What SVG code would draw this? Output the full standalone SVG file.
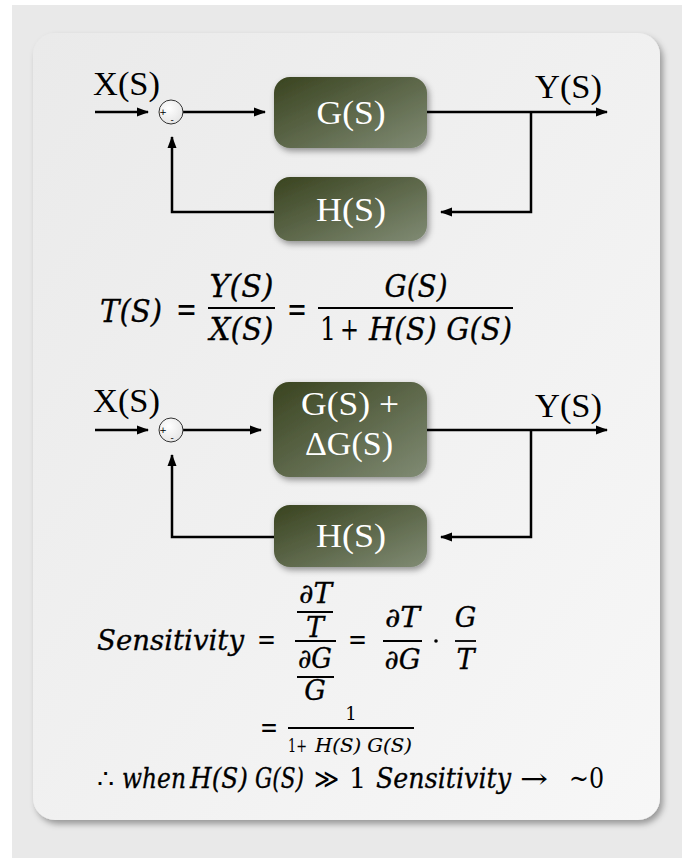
<svg xmlns="http://www.w3.org/2000/svg" width="689" height="859" viewBox="0 0 689 859">
<defs>
<linearGradient id="panelG" x1="0" y1="0" x2="1" y2="1"><stop offset="0" stop-color="#eaeaea"/><stop offset="1" stop-color="#f7f7f7"/></linearGradient>
<linearGradient id="boxG" x1="0" y1="0" x2="1" y2="1"><stop offset="0" stop-color="#39431f"/><stop offset="1" stop-color="#808b74"/></linearGradient>
<radialGradient id="sumG" cx="0.4" cy="0.35" r="0.7"><stop offset="0" stop-color="#ffffff"/><stop offset="1" stop-color="#e4e4e4"/></radialGradient>
<filter id="panelShadow" x="-5%" y="-5%" width="115%" height="115%"><feDropShadow dx="3" dy="4" stdDeviation="3" flood-color="#000" flood-opacity="0.35"/></filter>
<filter id="boxShadow" x="-10%" y="-10%" width="130%" height="140%"><feDropShadow dx="2" dy="3" stdDeviation="3" flood-color="#000" flood-opacity="0.4"/></filter>
<marker id="arr" markerUnits="userSpaceOnUse" markerWidth="12" markerHeight="12" viewBox="0 0 12 12" refX="11" refY="6" orient="auto"><path d="M0,1.5 L12,6 L0,10.5 Z" fill="#000"/></marker>
</defs>
<style>
.conn{fill:none;stroke:#000;stroke-width:2.5}
.box{fill:url(#boxG);filter:url(#boxShadow)}
.blbl{font-family:"Liberation Serif","Times New Roman",serif;font-size:34px;fill:#fff;text-anchor:middle}
.sig{font-family:"Liberation Serif","Times New Roman",serif;font-size:33px;fill:#000}
.sum{fill:url(#sumG);stroke:#333;stroke-width:1}
.pm{font-family:"DejaVu Sans",sans-serif;font-size:9px;fill:#000;text-anchor:middle}
.m{font-family:"DejaVu Serif",serif;font-style:italic;font-size:27px;fill:#000;stroke:#000;stroke-width:0.3}
.mu{font-family:"DejaVu Serif",serif;font-size:27px;fill:#000}
.f1{font-size:32px}
.eq{font-size:36px}
.mc{text-anchor:middle}
.bar{stroke:#000;stroke-width:1.8}
.sm{font-size:18px;stroke-width:0.15}
</style>
<rect x="12" y="5" width="670" height="853" fill="#e9e9e9"/>
<rect x="33" y="33" width="627" height="787" rx="22" fill="url(#panelG)" filter="url(#panelShadow)"/>

<g id="connectors">
<path class="conn" d="M95,112 H148" marker-end="url(#arr)"/>
<path class="conn" d="M183,112 H265" marker-end="url(#arr)"/>
<path class="conn" d="M427,112 H607" marker-end="url(#arr)"/>
<path class="conn" d="M531,112 V212 H441" marker-end="url(#arr)"/>
<path class="conn" d="M274,212 H172 V137" marker-end="url(#arr)"/>
<path class="conn" d="M95,430 H148" marker-end="url(#arr)"/>
<path class="conn" d="M183,430 H261" marker-end="url(#arr)"/>
<path class="conn" d="M427,430 H607" marker-end="url(#arr)"/>
<path class="conn" d="M531,430 V537 H441" marker-end="url(#arr)"/>
<path class="conn" d="M274,537 H172 V455" marker-end="url(#arr)"/>
</g>

<g id="x1"><text class="sig" x="93" y="95" textLength="67" lengthAdjust="spacingAndGlyphs">X(S)</text></g>
<g id="y1"><text class="sig" x="535" y="98" textLength="67" lengthAdjust="spacingAndGlyphs">Y(S)</text></g>
<g id="sum1"><circle class="sum" cx="171" cy="112" r="12"/><text class="pm" x="163" y="115">+</text><text class="pm" x="172" y="123">-</text></g>
<g id="g1"><rect class="box" x="274" y="77" width="153" height="71" rx="16"/><text class="blbl" x="351" y="124" textLength="69" lengthAdjust="spacingAndGlyphs">G(S)</text></g>
<g id="h1"><rect class="box" x="274" y="177" width="153" height="64" rx="16"/><text class="blbl" x="351" y="221" textLength="70" lengthAdjust="spacingAndGlyphs">H(S)</text></g>

<g id="formula1">
<text class="m f1" x="100" y="322" textLength="62" lengthAdjust="spacingAndGlyphs">T(S)</text>
<text class="mu eq" x="176" y="321" textLength="21" lengthAdjust="spacingAndGlyphs">=</text>
<line class="bar" x1="208" y1="308" x2="275" y2="308"/>
<text class="m f1 mc" x="241.5" y="297" textLength="64" lengthAdjust="spacingAndGlyphs">Y(S)</text>
<text class="m f1 mc" x="241.5" y="340" textLength="64" lengthAdjust="spacingAndGlyphs">X(S)</text>
<text class="mu eq" x="287" y="321" textLength="20" lengthAdjust="spacingAndGlyphs">=</text>
<line class="bar" x1="318" y1="308" x2="513" y2="308"/>
<text class="m f1 mc" x="416" y="297" textLength="63" lengthAdjust="spacingAndGlyphs">G(S)</text>
<text class="mu f1" x="320" y="340" textLength="16" lengthAdjust="spacingAndGlyphs">1</text>
<text class="mu f1" x="340" y="340" textLength="19" lengthAdjust="spacingAndGlyphs">+</text>
<text class="m f1" x="369" y="340" textLength="143" lengthAdjust="spacingAndGlyphs">H(S) G(S)</text>
</g>

<g id="x2"><text class="sig" x="93" y="412" textLength="67" lengthAdjust="spacingAndGlyphs">X(S)</text></g>
<g id="y2"><text class="sig" x="535" y="417" textLength="67" lengthAdjust="spacingAndGlyphs">Y(S)</text></g>
<g id="sum2"><circle class="sum" cx="171" cy="430" r="12"/><text class="pm" x="163" y="433">+</text><text class="pm" x="172" y="441">-</text></g>
<g id="g2"><rect class="box" x="273" y="382" width="154" height="95" rx="16"/><text class="blbl" x="350" y="415" textLength="98" lengthAdjust="spacingAndGlyphs">G(S) +</text><text class="blbl" x="349" y="455" textLength="88" lengthAdjust="spacingAndGlyphs">ΔG(S)</text></g>
<g id="h2"><rect class="box" x="274" y="505" width="153" height="62" rx="16"/><text class="blbl" x="351" y="547" textLength="70" lengthAdjust="spacingAndGlyphs">H(S)</text></g>

<g id="formula2">
<text class="m" x="97" y="650" textLength="147" lengthAdjust="spacingAndGlyphs">Sensitivity</text>
<text class="mu" x="257" y="649" textLength="19" lengthAdjust="spacingAndGlyphs">=</text>
<text class="m mc" x="315.5" y="603" textLength="33" lengthAdjust="spacingAndGlyphs">∂T</text>
<line class="bar" x1="297" y1="612" x2="333" y2="612"/>
<text class="m mc" x="315" y="637">T</text>
<line class="bar" x1="295" y1="641" x2="336" y2="641"/>
<text class="m mc" x="315" y="668" textLength="34" lengthAdjust="spacingAndGlyphs">∂G</text>
<line class="bar" x1="297" y1="677" x2="334" y2="677"/>
<text class="m mc" x="315" y="700">G</text>
<text class="mu" x="348" y="649" textLength="19" lengthAdjust="spacingAndGlyphs">=</text>
<line class="bar" x1="383" y1="641" x2="422" y2="641"/>
<text class="m mc" x="402.5" y="627" textLength="35" lengthAdjust="spacingAndGlyphs">∂T</text>
<text class="m mc" x="402.5" y="669" textLength="36" lengthAdjust="spacingAndGlyphs">∂G</text>
<circle cx="436" cy="641" r="1.8" fill="#000"/>
<line class="bar" x1="455" y1="641" x2="476" y2="641"/>
<text class="m mc" x="465.5" y="627">G</text>
<text class="m mc" x="465.5" y="669">T</text>
<text class="mu" x="260" y="737" textLength="18" lengthAdjust="spacingAndGlyphs">=</text>
<line class="bar" x1="288" y1="728" x2="414" y2="728"/>
<text class="mu mc sm" x="351" y="720">1</text>
<text class="mu sm" x="288" y="752" textLength="19" lengthAdjust="spacingAndGlyphs">1+</text>
<text class="m sm" x="315" y="752" textLength="97" lengthAdjust="spacingAndGlyphs">H(S) G(S)</text>
</g>

<g id="conclusion">
<text class="mu" x="97" y="788">∴</text>
<text class="m" x="122" y="788" textLength="64" lengthAdjust="spacingAndGlyphs">when</text>
<text class="m" x="190" y="788" textLength="58" lengthAdjust="spacingAndGlyphs">H(S)</text>
<text class="m" x="255" y="788" textLength="49" lengthAdjust="spacingAndGlyphs">G(S)</text>
<text class="mu" x="314" y="788" textLength="25" lengthAdjust="spacingAndGlyphs">≫</text>
<text class="mu" x="349" y="788">1</text>
<text class="m" x="376" y="788" textLength="135" lengthAdjust="spacingAndGlyphs">Sensitivity</text>
<text class="mu" x="520" y="788" textLength="28" lengthAdjust="spacingAndGlyphs">→</text>
<text class="mu" x="569" y="788" textLength="35" lengthAdjust="spacingAndGlyphs">~0</text>
</g>
</svg>
